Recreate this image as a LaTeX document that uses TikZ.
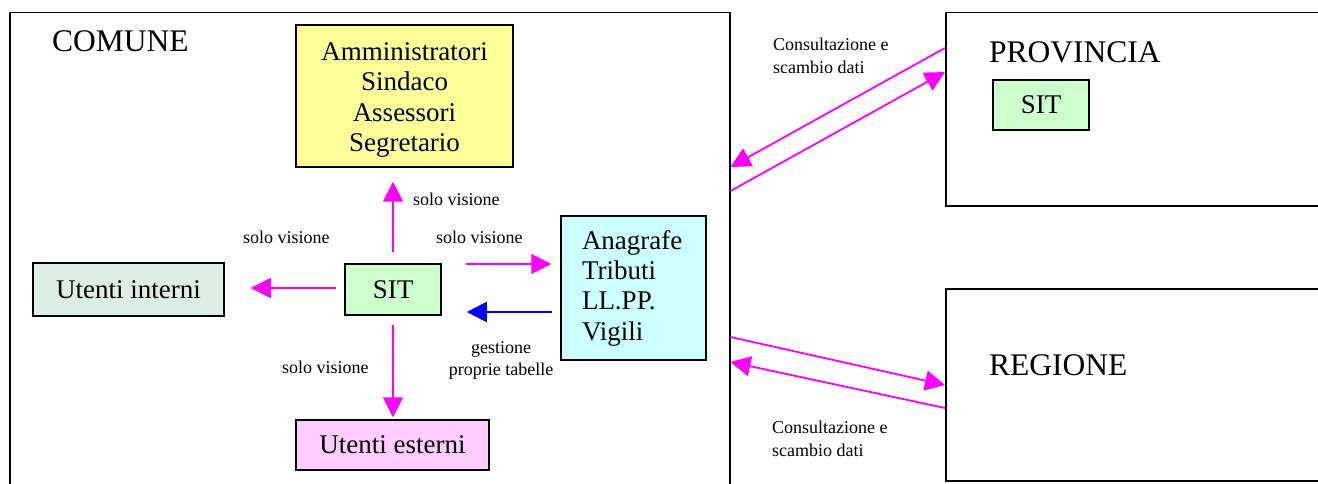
\documentclass[tikz,border=0pt]{standalone}
\usepackage{fontspec}
\setmainfont{Liberation Serif}
\usetikzlibrary{arrows.meta}
\definecolor{mag}{RGB}{255,0,255}
\definecolor{blu}{RGB}{0,0,255}
\definecolor{yel}{RGB}{255,255,153}
\definecolor{sitgreen}{RGB}{204,255,204}
\definecolor{uigreen}{RGB}{221,238,230}
\definecolor{uepink}{RGB}{255,204,255}
\definecolor{anacyan}{RGB}{204,255,255}
\begin{document}
\begin{tikzpicture}[x=1pt,y=-1pt,
  box/.style={draw=black, line width=1.5pt, inner sep=0pt, font=\fontsize{27}{30.3}\selectfont, align=center},
  frame/.style={draw=black, line width=1.5pt, inner sep=0pt, anchor=north west},
  big/.style={font=\fontsize{31.5}{36}\selectfont, anchor=base west, inner sep=0pt},
  lbl/.style={font=\fontsize{18}{22.5}\selectfont, inner sep=0pt},
  arr/.style={draw=mag, line width=1.8pt, -{Triangle[length=20pt,width=20pt]}},
  barr/.style={draw=blu, line width=1.8pt, -{Triangle[length=20pt,width=20pt]}},
]
\useasboundingbox (0,0) rectangle (1318,484);
\begin{scope}
\clip (0,0) rectangle (1318,484);
% outer frames
\node[frame, minimum width=720, minimum height=520] (comune) at (9,12) {};
\node[frame, minimum width=420, minimum height=193] (prov) at (945,12) {};
\node[frame, minimum width=420, minimum height=192] (reg) at (945,288) {};
\end{scope}
% frame titles
\node[big] (comlbl) at (52,52) {COMUNE};
\node[big] (provlbl) at (989,63) {PROVINCIA};
\node[big] (reglbl) at (989,375) {REGIONE};
% boxes
\node[box, fill=yel, minimum width=217, minimum height=142] (amm) at (404.5,96) {};
\node[font=\fontsize{27}{30.3}\selectfont, align=center, inner sep=0pt] (ammtxt) at (404.5,100) {Amministratori\\Sindaco\\Assessori\\Segretario};
\node[box, fill=sitgreen, minimum width=96, minimum height=51] (sit) at (393,289.5) {SIT};
\node[box, fill=uigreen, minimum width=191, minimum height=53] (ui) at (128.5,289.5) {Utenti interni};
\node[box, fill=uepink, minimum width=193, minimum height=50] (ue) at (392.5,445) {Utenti esterni};
\node[box, fill=anacyan, minimum width=145, minimum height=144, align=left, text width=103] (ana) at (633.5,288) {Anagrafe\\Tributi\\LL.PP.\\Vigili};
\node[box, fill=sitgreen, minimum width=96, minimum height=50] (psit) at (1041,105) {SIT};
% helper coordinates for connector heights
\coordinate (yL) at (0,288);
\coordinate (yR) at (0,264);
\coordinate (yB) at (0,312);
\coordinate (p1) at (0,48);
\coordinate (c1) at (0,167);
\coordinate (c2) at (0,191);
\coordinate (p2) at (0,72);
\coordinate (c3) at (0,337);
\coordinate (r3) at (0,385);
\coordinate (r4) at (0,408);
\coordinate (c4) at (0,362);
% connectors inside COMUNE
\draw[arr, shorten <=11pt, shorten >=14pt] (sit.north) -- (sit.north |- amm.south);
\draw[arr, shorten <=8pt, shorten >=26pt] (sit.west |- yL) -- (ui.east |- yL);
\draw[arr, shorten <=9pt, shorten >=2pt] (sit.south) -- (sit.south |- ue.north);
\draw[arr, shorten <=24pt, shorten >=9pt] (sit.east |- yR) -- (ana.west |- yR);
\draw[barr, shorten <=8pt, shorten >=25pt] (ana.west |- yB) -- (sit.east |- yB);
% connectors between frames
\draw[arr] (prov.west |- p1) -- (comune.east |- c1);
\draw[arr] (comune.east |- c2) -- (prov.west |- p2);
\draw[arr] (comune.east |- c3) -- (reg.west |- r3);
\draw[arr] (reg.west |- r4) -- (comune.east |- c4);
% labels
\node[lbl, anchor=base west] (l1) at (413,205) {solo visione};
\node[lbl, anchor=base west] (l2) at (243,243) {solo visione};
\node[lbl, anchor=base west] (l3) at (436,243) {solo visione};
\node[lbl, anchor=base west] (l4) at (282,373) {solo visione};
\node[lbl, align=center, anchor=base] (l5) at (501,375.5) {gestione\\proprie tabelle};
\node[lbl, align=left, anchor=base west] (l6) at (773,73.5) {Consultazione e\\scambio dati};
\node[lbl, align=left, anchor=base west] (l7) at (772,456) {Consultazione e\\scambio dati};
\end{tikzpicture}
\end{document}
